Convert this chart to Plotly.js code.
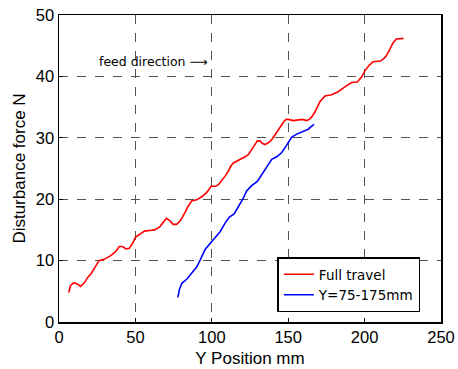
<!DOCTYPE html>
<html>
<head>
<meta charset="utf-8">
<script src="https://cdn.plot.ly/plotly-3.0.1.min.js"></script>
<style>html,body{margin:0;padding:0;background:#fff;}#chart{width:458px;height:369px;}</style>
</head>
<body>
<div id="chart"></div>
<script>
const seriesNames = ["Full travel", "Y=75-175mm"];

const fullX = [6.4,7.5,9.7,11.9,14.1,16.3,18.9,21.1,24,26.2,29.5,33.9,37.2,39.4,41.6,43.8,46,48.2,50,52.6,55.9,59.3,62.6,65.9,68.1,70.3,72.5,74.7,77,79.7,82.4,84.6,86.8,90.1,93.4,96.7,99.6,102.5,104.5,106.5,108.8,110.9,112.5,114.1,117.4,121.8,124,126.1,128,129.8,131.6,133,134.8,136.5,138.1,139.8,141.4,143,144.6,146,147.3,148.7,150.1,153.3,156.6,159.3,162.1,163.8,165.4,167.5,170.8,174.1,178.4,182.7,187.1,191.5,195.2,198,200.2,203,205.6,208,210.5,212.5,214.1,216.3,218.5,220.7,222.9,225.5];
const fullY = [4.8,5.9,6.4,6.2,5.8,6.3,7.3,7.9,9.1,10.0,10.2,10.8,11.5,12.3,12.3,11.9,12.0,12.8,13.8,14.3,14.8,14.9,15.0,15.5,16.3,16.9,16.5,15.9,15.9,16.6,17.8,18.9,19.7,19.9,20.4,21.1,22.1,22.1,22.4,23.0,23.8,24.6,25.4,25.9,26.3,26.9,27.3,28.0,28.8,29.5,29.5,29.1,28.9,29.1,29.4,29.9,30.5,31.1,31.8,32.3,32.7,33.0,33.0,32.8,32.9,33.0,32.8,33.0,33.4,34.2,35.9,36.8,37.0,37.5,38.3,39.0,39.1,39.9,40.9,41.8,42.4,42.5,42.5,42.9,43.3,44.3,45.4,46.1,46.2,46.2];

const partX = [77.8,78.8,80.4,83.7,86.9,90.2,92.4,95.6,98.9,102.2,105.4,108.7,111.5,114.6,117.4,120.7,122.9,126.1,129.8,132.7,135.9,139.2,142.5,145.8,149,152.3,155.6,159.5,163.1,165.4,166.9];
const partY = [4.0,5.3,6.3,7.0,8.0,9.0,10.1,11.8,12.8,13.7,14.7,16.1,17.1,17.6,18.7,20.2,21.4,22.2,22.9,24.0,25.3,26.5,26.9,27.6,28.8,30.1,30.6,31.0,31.4,31.9,32.2];

const xTicks = [0,50,100,150,200,250];
const yTicks = [0,10,20,30,40,50];

const SANS = "Liberation Sans, Arial, sans-serif";
const GOTHIC = "DejaVu Sans, sans-serif";

const traces = [
  {x: fullX, y: fullY, name: seriesNames[0], mode: "lines", line: {color: "#ff0000", width: 1.6}},
  {x: partX, y: partY, name: seriesNames[1], mode: "lines", line: {color: "#0000ff", width: 1.6}}
];

const axisCommon = {
  showline: true, linecolor: "#000", linewidth: 1.5, mirror: true,
  ticks: "inside", ticklen: 4, tickcolor: "#000",
  showgrid: true, gridcolor: "#555", griddash: "dash", gridwidth: 1,
  zeroline: false,
  tickfont: {family: SANS, size: 16.5, color: "#000"}
};

const layout = {
  width: 458, height: 369,
  margin: {l: 59, r: 17, t: 15, b: 47},
  paper_bgcolor: "#fff", plot_bgcolor: "#fff",
  showlegend: true,
  legend: {
    x: 0.946, y: 0.031, xanchor: "right", yanchor: "bottom",
    bgcolor: "#fff", bordercolor: "#000", borderwidth: 1.5,
    font: {family: GOTHIC, size: 13.5, color: "#000"},
    tracegroupgap: 0, itemwidth: 30
  },
  xaxis: Object.assign({}, axisCommon, {
    range: [0, 250], tickvals: xTicks,
    title: {text: "Y Position mm", font: {family: SANS, size: 17, color: "#000"}, standoff: 7}
  }),
  yaxis: Object.assign({}, axisCommon, {
    range: [0, 50], tickvals: yTicks,
    title: {text: "Disturbance force N", font: {family: SANS, size: 17, color: "#000"}, standoff: 6}
  }),
  annotations: [{
    x: 24.8, y: 42.5, xref: "x", yref: "y", xanchor: "left", yanchor: "middle",
    text: "feed direction \u27F6", showarrow: false,
    font: {family: GOTHIC, size: 12.5, color: "#000"}
  }]
};

Plotly.newPlot("chart", traces, layout, {displayModeBar: false, staticPlot: true});
</script>
</body>
</html>
